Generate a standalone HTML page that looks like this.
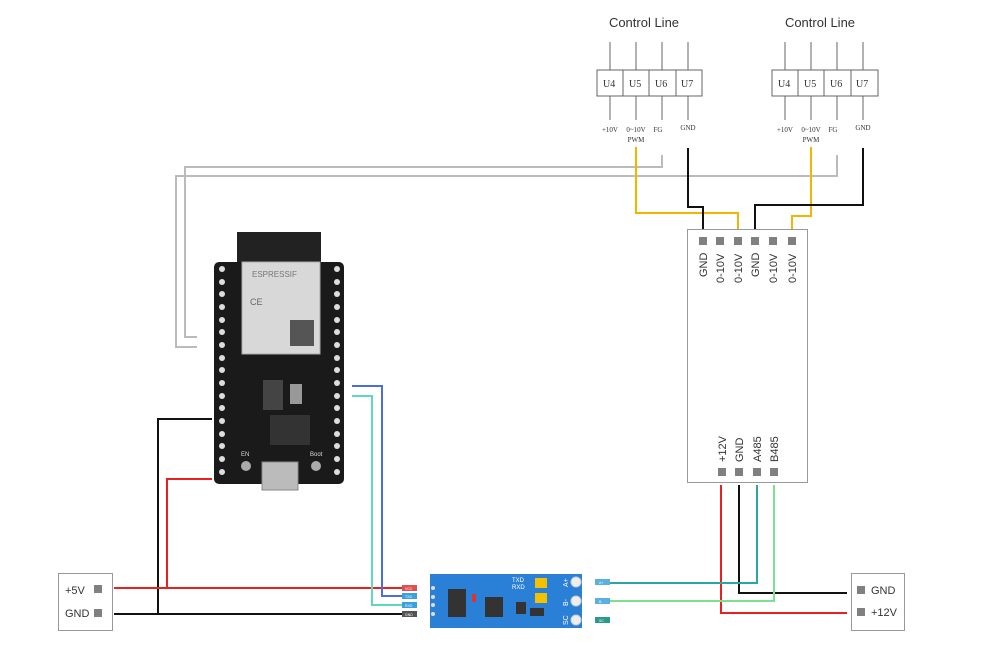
<!DOCTYPE html>
<html><head><meta charset="utf-8"><style>
body{margin:0;background:#fff;width:1000px;height:646px;overflow:hidden}
svg{display:block}
</style></head><body>
<svg width="1000" height="646" viewBox="0 0 1000 646" xmlns="http://www.w3.org/2000/svg" font-family="Liberation Sans, sans-serif">
<g fill="#333">
<text x="644" y="27" font-size="13" text-anchor="middle">Control Line</text>
<text x="820" y="27" font-size="13" text-anchor="middle">Control Line</text>
</g>
<g stroke="#666" stroke-width="1" fill="none">
<rect x="597" y="70" width="105" height="26" fill="#fff"/>
<line x1="623" y1="70" x2="623" y2="96"/><line x1="649" y1="70" x2="649" y2="96"/><line x1="676" y1="70" x2="676" y2="96"/>
<rect x="772" y="70" width="106" height="26" fill="#fff"/>
<line x1="798" y1="70" x2="798" y2="96"/><line x1="824" y1="70" x2="824" y2="96"/><line x1="851" y1="70" x2="851" y2="96"/>
<path d="M610 42V70M636 42V70M662 42V70M688 42V70M610 96V120M636 96V120M662 96V120M688 96V120"/>
<path d="M785 42V70M811 42V70M837 42V70M863 42V70M785 96V120M811 96V120M837 96V120M863 96V120"/>
</g>
<g font-family="Liberation Serif, serif" fill="#333" font-size="10">
<text x="603" y="87">U4</text><text x="629" y="87">U5</text><text x="655" y="87">U6</text><text x="681" y="87">U7</text>
<text x="778" y="87">U4</text><text x="804" y="87">U5</text><text x="830" y="87">U6</text><text x="856" y="87">U7</text>
<g font-size="7">
<text x="610" y="132" text-anchor="middle">+10V</text><text x="636" y="132" text-anchor="middle">0~10V</text><text x="636" y="142" text-anchor="middle">PWM</text><text x="658" y="132" text-anchor="middle">FG</text><text x="688" y="130" text-anchor="middle">GND</text>
<text x="785" y="132" text-anchor="middle">+10V</text><text x="811" y="132" text-anchor="middle">0~10V</text><text x="811" y="142" text-anchor="middle">PWM</text><text x="833" y="132" text-anchor="middle">FG</text><text x="863" y="130" text-anchor="middle">GND</text>
</g></g>
<g fill="none" stroke-width="2">
<path d="M662 155V167H185V337H197" stroke="#bbb"/>
<path d="M837 155V176H176V347H197" stroke="#bbb"/>
<path d="M636 147V213H738V229" stroke="#f5b400"/>
<path d="M811 147V216H792V229" stroke="#f5b400"/>
<path d="M688 148V207H703V229" stroke="#111"/>
<path d="M863 148V205H755V229" stroke="#111"/>
<path d="M721 485V613H847" stroke="#e82020"/>
<path d="M739 485V593H847" stroke="#111"/>
<path d="M757 485V583H605" stroke="#2aa7a0"/>
<path d="M774 485V601H605" stroke="#7be08f"/>
<path d="M212 419H158V614H402" stroke="#111"/>
<path d="M212 479H167V588H402" stroke="#e82020"/>
<path d="M114 588H167" stroke="#e82020"/>
<path d="M114 614H158" stroke="#111"/>
<path d="M352 386H382V596H402" stroke="#4a6ee0"/>
<path d="M352 396H372V605H402" stroke="#5fd8c0"/>
</g>
<rect x="687.5" y="229.5" width="120" height="253" fill="#fff" stroke="#999"/>
<g fill="#808080">
<rect x="699" y="237" width="8" height="8"/><rect x="716" y="237" width="8" height="8"/><rect x="734" y="237" width="8" height="8"/><rect x="751" y="237" width="8" height="8"/><rect x="769" y="237" width="8" height="8"/><rect x="788" y="237" width="8" height="8"/>
<rect x="718" y="468" width="8" height="8"/><rect x="735" y="468" width="8" height="8"/><rect x="753" y="468" width="8" height="8"/><rect x="770" y="468" width="8" height="8"/>
</g>
<g font-size="11" fill="#333">
<text transform="translate(707,277) rotate(-90)">GND</text>
<text transform="translate(724,283) rotate(-90)">0-10V</text>
<text transform="translate(742,283) rotate(-90)">0-10V</text>
<text transform="translate(759,277) rotate(-90)">GND</text>
<text transform="translate(777,283) rotate(-90)">0-10V</text>
<text transform="translate(796,283) rotate(-90)">0-10V</text>
<text transform="translate(726,462) rotate(-90)">+12V</text>
<text transform="translate(743,462) rotate(-90)">GND</text>
<text transform="translate(761,462) rotate(-90)">A485</text>
<text transform="translate(778,462) rotate(-90)">B485</text>
</g>
<rect x="58.5" y="573.5" width="54" height="57" fill="#fff" stroke="#999"/>
<text x="65" y="594" font-size="11" fill="#333">+5V</text><text x="65" y="617" font-size="11" fill="#333">GND</text>
<rect x="94" y="585" width="8" height="8" fill="#808080"/><rect x="94" y="609" width="8" height="8" fill="#808080"/>
<rect x="851.5" y="573.5" width="53" height="57" fill="#fff" stroke="#999"/>
<rect x="857" y="586" width="8" height="8" fill="#808080"/><rect x="857" y="608" width="8" height="8" fill="#808080"/>
<text x="871" y="594" font-size="11" fill="#333">GND</text><text x="871" y="616" font-size="11" fill="#333">+12V</text>
<rect x="237" y="232" width="84" height="32" fill="#222"/>
<rect x="214" y="262" width="130" height="222" rx="5" fill="#1a1a1a"/>
<rect x="242" y="262" width="78" height="92" fill="#d8d8d8" stroke="#aaa"/>
<text x="252" y="277" font-size="8" fill="#777">ESPRESSIF</text>
<text x="250" y="305" font-size="9" fill="#666">CE</text>
<rect x="290" y="320" width="24" height="26" fill="#555"/>
<g fill="#ddd">
<circle cx="222" cy="269" r="3"/><circle cx="222" cy="282" r="3"/><circle cx="222" cy="294" r="3"/><circle cx="222" cy="307" r="3"/><circle cx="222" cy="320" r="3"/><circle cx="222" cy="332" r="3"/><circle cx="222" cy="345" r="3"/><circle cx="222" cy="358" r="3"/><circle cx="222" cy="370" r="3"/><circle cx="222" cy="383" r="3"/><circle cx="222" cy="396" r="3"/><circle cx="222" cy="408" r="3"/><circle cx="222" cy="421" r="3"/><circle cx="222" cy="434" r="3"/><circle cx="222" cy="446" r="3"/><circle cx="222" cy="459" r="3"/><circle cx="222" cy="472" r="3"/>
<circle cx="337" cy="269" r="3"/><circle cx="337" cy="282" r="3"/><circle cx="337" cy="294" r="3"/><circle cx="337" cy="307" r="3"/><circle cx="337" cy="320" r="3"/><circle cx="337" cy="332" r="3"/><circle cx="337" cy="345" r="3"/><circle cx="337" cy="358" r="3"/><circle cx="337" cy="370" r="3"/><circle cx="337" cy="383" r="3"/><circle cx="337" cy="396" r="3"/><circle cx="337" cy="408" r="3"/><circle cx="337" cy="421" r="3"/><circle cx="337" cy="434" r="3"/><circle cx="337" cy="446" r="3"/><circle cx="337" cy="459" r="3"/><circle cx="337" cy="472" r="3"/>
</g>
<rect x="263" y="380" width="20" height="30" fill="#444"/><rect x="290" y="384" width="12" height="20" fill="#999"/>
<rect x="270" y="415" width="40" height="30" fill="#333"/>
<text x="241" y="456" font-size="6" fill="#ddd">EN</text><text x="310" y="456" font-size="6" fill="#ddd">Boot</text>
<rect x="262" y="462" width="36" height="28" fill="#bbb" stroke="#888"/>
<circle cx="246" cy="466" r="5" fill="#aaa"/><circle cx="316" cy="466" r="5" fill="#aaa"/>
<rect x="430" y="574" width="152" height="54" fill="#2a80d6"/>
<rect x="448" y="589" width="18" height="28" fill="#333"/><rect x="485" y="597" width="18" height="20" fill="#333"/>
<rect x="535" y="578" width="12" height="10" fill="#f2c200"/><rect x="535" y="593" width="12" height="10" fill="#f2c200"/>
<rect x="516" y="602" width="10" height="12" fill="#333"/><rect x="530" y="608" width="14" height="8" fill="#333"/>
<rect x="472" y="594" width="4" height="8" fill="#d33"/>
<text x="512" y="582" font-size="6" fill="#fff">TXD</text><text x="512" y="589" font-size="6" fill="#fff">RXD</text>
<g font-size="7" fill="#fff">
<text transform="translate(568,587) rotate(-90)">A+</text>
<text transform="translate(568,606) rotate(-90)">B-</text>
<text transform="translate(568,625) rotate(-90)">SC</text>
</g>
<g fill="#eee" stroke="#ccc"><circle cx="576" cy="582" r="5"/><circle cx="576" cy="601" r="5"/><circle cx="576" cy="620" r="5"/></g>
<g fill="#ddd"><circle cx="433" cy="588" r="2"/><circle cx="433" cy="597" r="2"/><circle cx="433" cy="605" r="2"/><circle cx="433" cy="614" r="2"/></g>
<rect x="402" y="585" width="15" height="6" fill="#e05050"/><rect x="402" y="593" width="15" height="6" fill="#3aa0e0"/><rect x="402" y="602" width="15" height="6" fill="#3aa0e0"/><rect x="402" y="611" width="15" height="6" fill="#555"/>
<g font-size="3.5" fill="#fff"><text x="405" y="590">VCC</text><text x="405" y="598">TXD</text><text x="405" y="607">RXD</text><text x="405" y="616">GND</text></g>
<rect x="595" y="579" width="15" height="6" fill="#5ab0e0"/><rect x="595" y="598" width="15" height="6" fill="#5ab0e0"/><rect x="595" y="617" width="15" height="6" fill="#2a9a8a"/>
<g font-size="3.5" fill="#fff"><text x="599" y="584">A+</text><text x="599" y="603">B-</text><text x="599" y="622">SC</text></g>
</svg>
</body></html>
